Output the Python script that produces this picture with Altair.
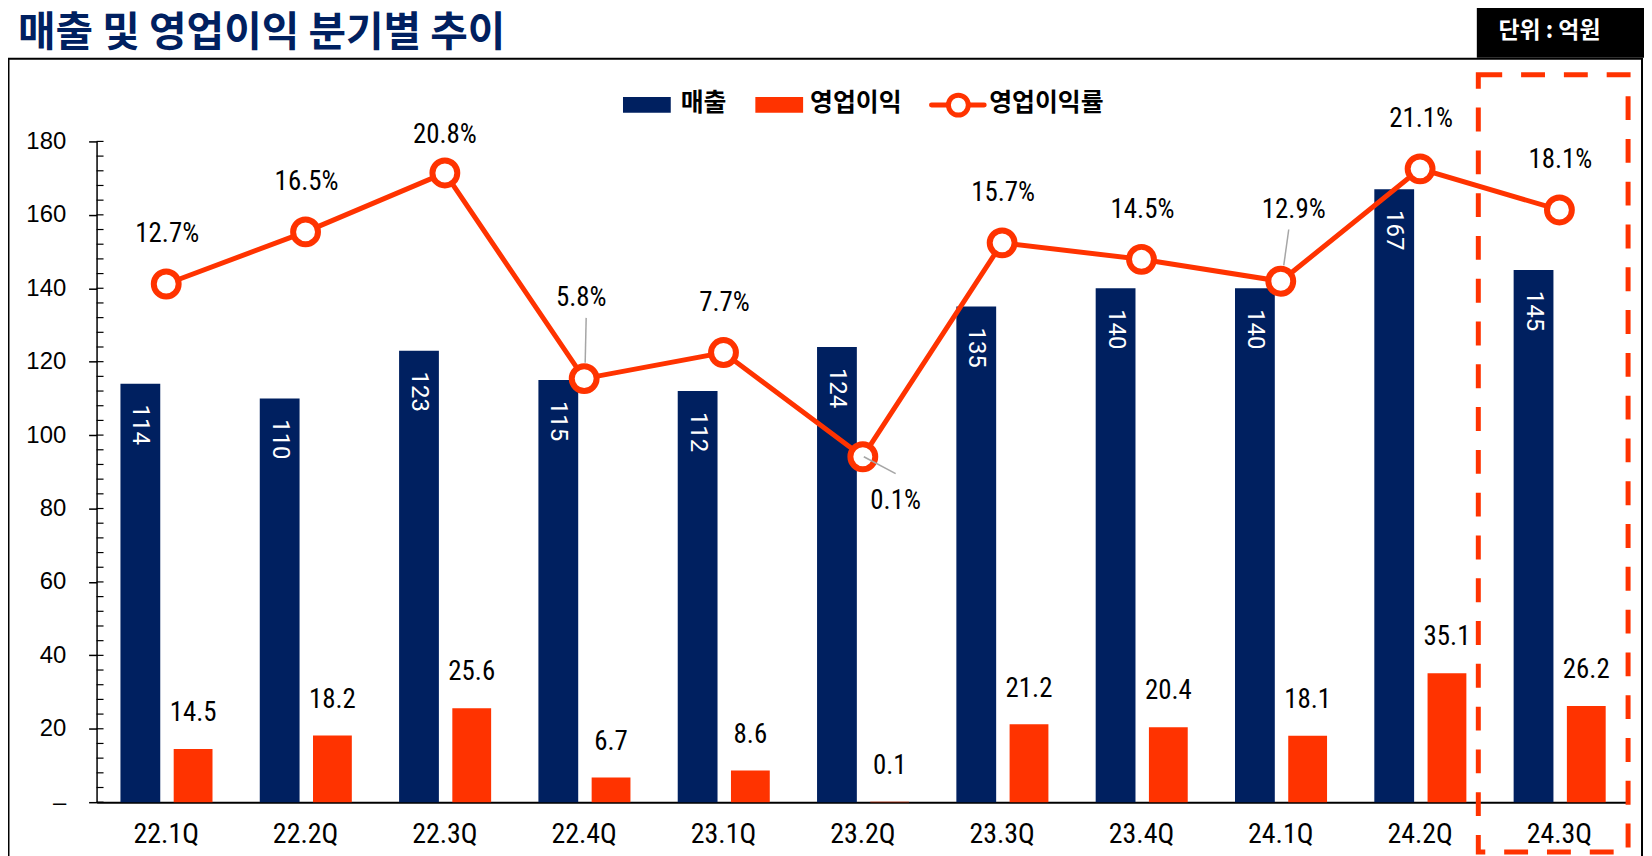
import altair as alt
import pandas as pd

# ---------------- data ----------------
quarters = ["22.1Q", "22.2Q", "22.3Q", "22.4Q", "23.1Q", "23.2Q",
            "23.3Q", "23.4Q", "24.1Q", "24.2Q", "24.3Q"]
revenue = [114, 110, 123, 115, 112, 124, 135, 140, 140, 167, 145]
op_profit = [14.5, 18.2, 25.6, 6.7, 8.6, 0.1, 21.2, 20.4, 18.1, 35.1, 26.2]
op_margin = [12.7, 16.5, 20.8, 5.8, 7.7, 0.1, 15.7, 14.5, 12.9, 21.1, 18.1]
y_ticks = [0, 20, 40, 60, 80, 100, 120, 140, 160, 180]
legend_labels = ["매출", "영업이익", "영업이익률"]
title_text = "매출 및 영업이익 분기별 추이"
unit_text = "단위 : 억원"

df = pd.DataFrame({"quarter": quarters, "revenue": revenue,
                   "profit": op_profit, "margin": op_margin})

# ---------------- styles ----------------
NAVY = "#002060"
ORANGE = "#FF3300"
GRAY = "#A6A6A6"
KR = "Noto Sans CJK KR"
NARROW = "Liberation Sans Narrow, Arial Narrow, Roboto Condensed, Roboto, sans-serif"
SANS = "Liberation Sans, Arial, sans-serif"
ROBOTO = "Roboto, Liberation Sans, sans-serif"

xscale = alt.Scale(domain=quarters, paddingInner=0, paddingOuter=0)
xaxis = alt.Axis(title=None, ticks=False, domain=True, domainColor="black",
                 domainWidth=2, labelFont=NARROW, labelFontSize=28,
                 labelColor="black", labelPadding=19, labelAngle=0)


def xenc():
    return alt.X("quarter:N", scale=xscale, axis=xaxis)


yscale = alt.Scale(domain=[0, 180], nice=False, zero=True)
yaxis = alt.Axis(title=None, values=y_ticks, grid=False, domainColor="black",
                 domainWidth=1.5, tickColor="black", tickSize=8, tickWidth=1.5,
                 labelFont=SANS, labelFontSize=24, labelColor="black",
                 labelPadding=23,
                 labelExpr="datum.value == 0 ? '\u2013\u00a0\u00a0\u00a0' : datum.label")


def yenc(field):
    return alt.Y(field, scale=yscale, axis=yaxis)


mscale = alt.Scale(domain=[-25.1, 23.1], nice=False, zero=False)
ymar = alt.Y("margin:Q", scale=mscale, axis=None)

base = alt.Chart(df)

# ---------------- left (amount) group ----------------
bars_rev = base.mark_bar(color=NAVY, width=40, xOffset=-26).encode(
    x=xenc(), y=yenc("revenue:Q"))
bars_op = base.mark_bar(color=ORANGE, width=39, xOffset=27).encode(
    x=xenc(), y=yenc("profit:Q"))
rev_labels = base.mark_text(color="white", angle=90, align="left",
                            baseline="middle", font=ROBOTO, fontSize=24,
                            xOffset=-26, yOffset=21).encode(
    x=xenc(), y=yenc("revenue:Q"), text=alt.Text("revenue:Q", format="d"))
op_labels = base.mark_text(color="black", font=NARROW, fontSize=27,
                           baseline="middle", xOffset=27, dy=-36).encode(
    x=xenc(), y=yenc("profit:Q"), text=alt.Text("profit:Q", format=".1f"))
minor = alt.Chart(alt.sequence(0, 181, 4, as_="v")).mark_rule(
    color="black", strokeWidth=1.2).encode(
    y=yenc("v:Q"), x=alt.value(0), x2=alt.value(7))

left = alt.layer(bars_rev, bars_op, rev_labels, op_labels, minor)

# ---------------- right (margin) group ----------------
line = base.mark_line(color=ORANGE, strokeWidth=5).encode(x=xenc(), y=ymar)
pts = base.mark_point(shape="circle", filled=True, fill="white", stroke=ORANGE,
                      strokeWidth=6, size=625, opacity=1).encode(x=xenc(), y=ymar)

pct = base.transform_calculate(lab="format(datum.margin, '.1f') + '%'")
special = ["22.3Q", "22.4Q", "23.2Q", "24.1Q"]


def pct_layer(filt, dx, dy):
    return pct.transform_filter(filt).mark_text(
        color="black", font=NARROW, fontSize=27, baseline="middle",
        dx=dx, dy=dy).encode(x=xenc(), y=ymar, text="lab:N")


pct_default = pct_layer({"not": {"field": "quarter", "oneOf": special}}, 1, -50)
pct_a = pct_layer(alt.datum.quarter == "22.3Q", 0, -38)
pct_b = pct_layer(alt.datum.quarter == "22.4Q", -3, -81)
pct_c = pct_layer(alt.datum.quarter == "23.2Q", 33, 45)
pct_d = pct_layer(alt.datum.quarter == "24.1Q", 13, -72)


def leader(q, xo, yo, x2o, y2o):
    return base.transform_filter(alt.datum.quarter == q).mark_rule(
        color=GRAY, strokeWidth=1.5, xOffset=xo, yOffset=yo,
        x2Offset=x2o, y2Offset=y2o).encode(
        x=alt.X("quarter:N", scale=xscale, axis=xaxis, bandPosition=0.5),
        x2=alt.X2("quarter", bandPosition=0.5),
        y=ymar, y2=alt.Y2("margin"))


lead_b = leader("22.4Q", 1, -16, 2, -61)
lead_c = leader("23.2Q", 1, 0, 33, 17)
lead_d = leader("24.1Q", 3, -16, 8, -52)

right = alt.layer(line, pts, lead_b, lead_c, lead_d,
                  pct_default, pct_a, pct_b, pct_c, pct_d)

# ---------------- annotations (pixel positions relative to plot) ----------------
one = pd.DataFrame({"k": [0]})
ann = alt.Chart(one)

frame = ann.mark_rect(fillOpacity=0, stroke="black", strokeWidth=2).encode(
    x=alt.value(-88.5), x2=alt.value(1553), y=alt.value(-83), y2=alt.value(900))

title = alt.Chart(pd.DataFrame({"t": [title_text]})).mark_text(
    font=KR, fontSize=41, fontWeight="bold", color=NAVY, align="left",
    baseline="middle").encode(x=alt.value(-79), y=alt.value(-108), text="t:N")

unit_box = ann.mark_rect(color="black").encode(
    x=alt.value(1387), x2=alt.value(1560), y=alt.value(-134), y2=alt.value(-84))
unit_lab = alt.Chart(pd.DataFrame({"t": [unit_text]})).mark_text(
    font=KR, fontSize=23, fontWeight="bold", color="white", align="center",
    baseline="middle").encode(x=alt.value(1460), y=alt.value(-111), text="t:N")

dashed = ann.mark_rect(fillOpacity=0, stroke=ORANGE, strokeWidth=5,
                       strokeDash=[24, 19]).encode(
    x=alt.value(1388.5), x2=alt.value(1539), y=alt.value(-67), y2=alt.value(714))

leg_rev = ann.mark_rect(color=NAVY).encode(
    x=alt.value(529), x2=alt.value(577), y=alt.value(-44.7), y2=alt.value(-28.7))
leg_op = ann.mark_rect(color=ORANGE).encode(
    x=alt.value(662), x2=alt.value(710), y=alt.value(-44.7), y2=alt.value(-28.7))
leg_line = ann.mark_rule(color=ORANGE, strokeWidth=5, strokeCap="round").encode(
    x=alt.value(839), x2=alt.value(892), y=alt.value(-36.5))
leg_pt = ann.mark_point(shape="circle", filled=True, fill="white", stroke=ORANGE,
                        strokeWidth=5, size=400, opacity=1).encode(
    x=alt.value(866), y=alt.value(-36.5))


def leg_text(i, xpos):
    return alt.Chart(pd.DataFrame({"t": [legend_labels[i]]})).mark_text(
        font=KR, fontSize=25, fontWeight="bold", color="black", align="left",
        baseline="middle").encode(x=alt.value(xpos), y=alt.value(-39), text="t:N")


chart = alt.layer(
    frame, left, right, title, unit_box, unit_lab, dashed,
    leg_rev, leg_op, leg_line, leg_pt,
    leg_text(0, 587), leg_text(1, 717), leg_text(2, 897)
).resolve_scale(y="independent").properties(
    width=1540, height=664,
    autosize=alt.AutoSizeParams(type="none"),
    padding={"left": 89, "top": 132, "right": 15, "bottom": 52},
    background="white"
).configure_view(stroke=None)

chart.save("out.html", embed_options={"renderer": "svg", "actions": False})
